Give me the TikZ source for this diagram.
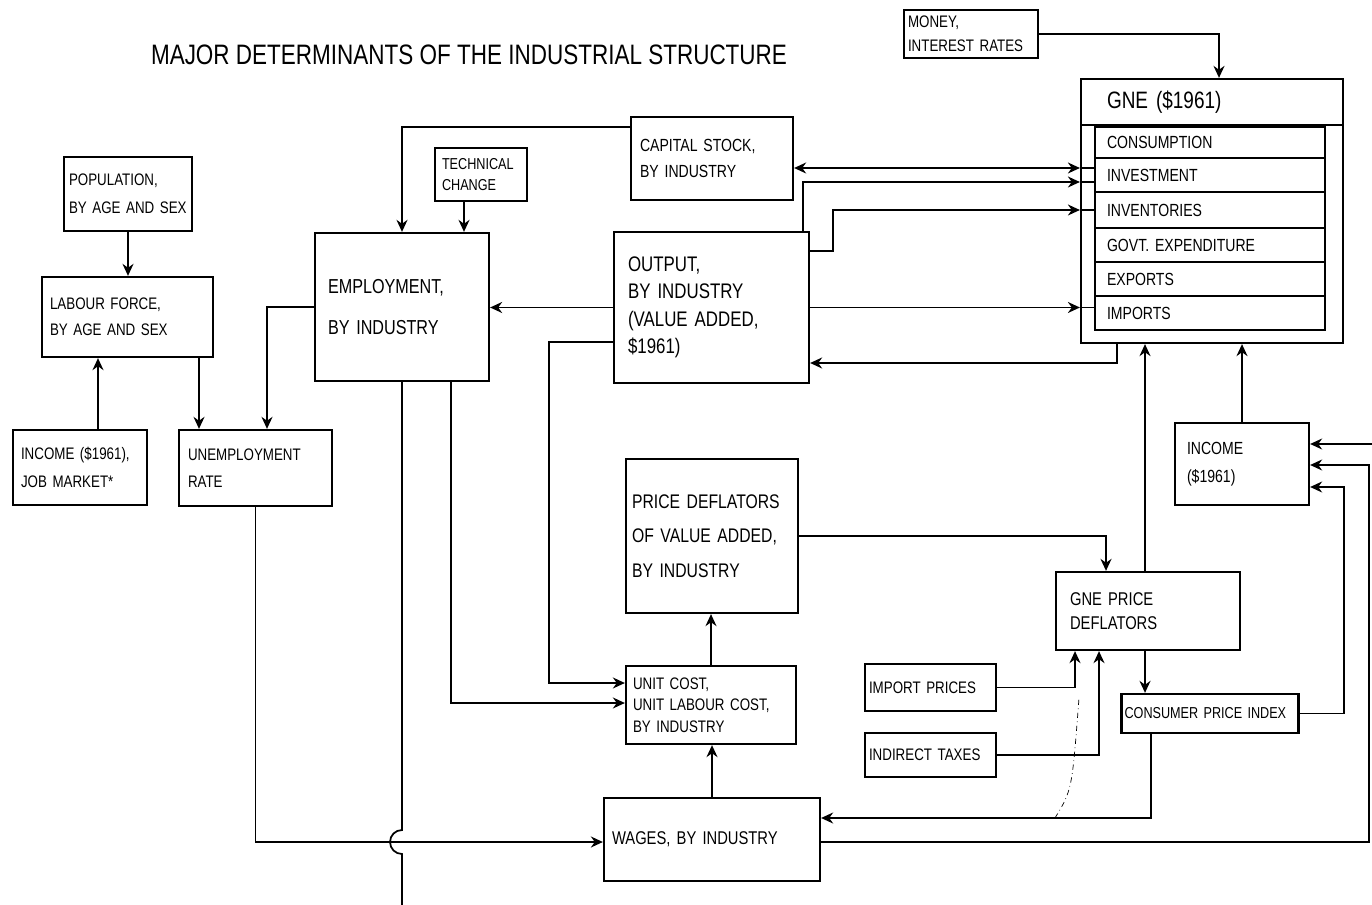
\documentclass[tikz,border=0pt]{standalone}
\usepackage{fontspec}
\setmainfont{Liberation Sans}[FakeStretch=0.8]
\usetikzlibrary{arrows.meta,positioning,calc}
\tikzset{>={Stealth[length=2.4mm,width=2.2mm]}}

\begin{document}
\begin{tikzpicture}[
    x=0.02cm, y=-0.02cm,
    box/.style={draw, line width=1.3pt, align=left, inner sep=0pt},
    link/.style={line width=1pt},
    row/.style={box, minimum width=4.6cm, text width=4.12cm, font=\fontsize{10}{12}\selectfont},
    >={Stealth[length=2.4mm,width=2.2mm]}
  ]
    \useasboundingbox (0,0) rectangle (1372,905);
    \node[font=\fontsize{16}{18}\selectfont] (title) at (469,55) {MAJOR DETERMINANTS OF THE INDUSTRIAL STRUCTURE};

    % left column
    \node[box, minimum width=2.56cm, minimum height=1.48cm, text width=2.36cm, font=\fontsize{9.5}{16}\selectfont] (pop) at (128,194) {POPULATION,\\BY AGE AND SEX};
    \node[box, minimum width=3.42cm, minimum height=1.6cm, text width=3.1cm, font=\fontsize{9.5}{15}\selectfont] (labour) at (127.5,317) {LABOUR FORCE,\\BY AGE AND SEX};
    \node[box, minimum width=2.68cm, minimum height=1.5cm, text width=2.36cm, font=\fontsize{9.5}{16}\selectfont] (incjob) at (80,467.5) {INCOME (\$1961),\\JOB MARKET*};
    \node[box, minimum width=3.06cm, minimum height=1.52cm, text width=2.7cm, font=\fontsize{9.5}{15}\selectfont] (unemp) at (255.5,468) {UNEMPLOYMENT\\RATE};

    % middle
    \node[box, minimum width=1.84cm, minimum height=1.06cm, text width=1.56cm, font=\fontsize{9}{12}\selectfont] (techch) at (481,174.5) {TECHNICAL\\CHANGE};
    \node[box, minimum width=3.48cm, minimum height=2.96cm, text width=2.96cm, font=\fontsize{11.5}{23}\selectfont] (emp) at (402,307) {EMPLOYMENT,\\BY INDUSTRY};
    \node[box, minimum width=3.24cm, minimum height=1.66cm, text width=2.88cm, font=\fontsize{10}{14.5}\selectfont] (capst) at (712,158.5) {CAPITAL STOCK,\\BY INDUSTRY};
    \node[box, minimum width=3.9cm, minimum height=3.02cm, text width=3.34cm, font=\fontsize{12}{15.6}\selectfont] (output) at (711.5,307.5) {OUTPUT,\\BY INDUSTRY\\(VALUE ADDED,\\\$1961)};
    \node[box, minimum width=3.44cm, minimum height=3.08cm, text width=3.2cm, font=\fontsize{11.2}{19.6}\selectfont] (pdva) at (712,536) {PRICE DEFLATORS\\OF VALUE ADDED,\\BY INDUSTRY};
    \node[box, minimum width=3.4cm, minimum height=1.56cm, text width=3.12cm, font=\fontsize{9.5}{12.2}\selectfont] (ucost) at (711,705) {UNIT COST,\\UNIT LABOUR COST,\\BY INDUSTRY};
    \node[box, minimum width=4.32cm, minimum height=1.66cm, text width=4.0cm, font=\fontsize{10.5}{13}\selectfont] (wages) at (712,839.5) {WAGES, BY INDUSTRY};

    % right side
    \node[box, minimum width=2.68cm, minimum height=0.96cm, text width=2.52cm, font=\fontsize{9.5}{13.6}\selectfont] (money) at (971,34) {MONEY,\\INTEREST RATES};
    \node[box, minimum width=5.24cm, minimum height=5.28cm] (gne) at (1212,211) {};
    \node[box, minimum width=5.24cm, minimum height=0.92cm, text width=4.2cm, font=\fontsize{13.5}{15}\selectfont] (gnehd) at (1212,102) {GNE (\$1961)};
    \node[row, minimum height=0.62cm] (cons) at (1210,142.5) {CONSUMPTION};
    \node[row, minimum height=0.68cm] (inv) at (1210,175) {INVESTMENT};
    \node[row, minimum height=0.72cm] (invt) at (1210,210) {INVENTORIES};
    \node[row, minimum height=0.68cm] (govt) at (1210,245) {GOVT. EXPENDITURE};
    \node[row, minimum height=0.68cm] (expo) at (1210,279) {EXPORTS};
    \node[row, minimum height=0.68cm] (impo) at (1210,313) {IMPORTS};
    \node[box, minimum width=2.68cm, minimum height=1.64cm, text width=2.2cm, font=\fontsize{10}{16}\selectfont] (inc) at (1242,464) {INCOME\\(\$1961)};
    \node[box, minimum width=3.68cm, minimum height=1.56cm, text width=3.12cm, font=\fontsize{10.5}{13.6}\selectfont] (gnepd) at (1148,611) {GNE PRICE\\DEFLATORS};
    \node[box, minimum width=2.62cm, minimum height=0.94cm, text width=2.46cm, font=\fontsize{9.5}{12}\selectfont] (impp) at (930.5,687.5) {IMPORT PRICES};
    \node[box, minimum width=2.62cm, minimum height=0.88cm, text width=2.46cm, font=\fontsize{9.5}{12}\selectfont] (indt) at (930.5,755) {INDIRECT TAXES};
    \node[box, minimum width=3.54cm, minimum height=0.78cm, text width=3.42cm, font=\fontsize{9}{11}\selectfont] (cpi) at (1210,713.5) {CONSUMER PRICE INDEX};

    \coordinate (empend) at (402,905);
    \coordinate (incfar) at (1372,444);
    \coordinate (ddlo) at (1055,818);
    \coordinate (ddhi) at (1079,698);

    % left links
    \draw[link,->] (pop.south) -- (pop.south |- labour.north);
    \draw[link,->] ($(incjob.north)+(18,0)$) -- ($(labour.south)+(-29.5,0)$);
    \draw[link,->] ($(labour.south)+(71.5,0)$) -- ($(unemp.north)+(-56.5,0)$);
    \draw[link,->] (emp.west) -| ($(unemp.north)+(11.5,0)$);
    \draw[link,->] (unemp.south) |- ($(wages.west)+(0,2.5)$);
    \draw[link] (emp.south) -- ($(emp.south |- wages.west)+(0,-9.5)$)
        arc[start angle=270, end angle=90, radius=12] -- (empend);

    % employment, output, costs
    \draw[link,->] ($(capst.west)+(0,-31.5)$) -| (emp.north);
    \draw[link,->] ($(techch.south)+(-17,0)$) -- ($(emp.north)+(62,0)$);
    \draw[link,->] (output.west) -- (emp.east |- output.west);
    \draw[link,->] ($(output.west)+(0,34.5)$) -- ++(-64,0) |- ($(ucost.west)+(0,-22)$);
    \draw[link,->] ($(emp.south)+(49,0)$) |- ($(ucost.west)+(0,-2)$);
    \draw[link,->] (ucost.north) -- (ucost.north |- pdva.south);
    \draw[link,->] (wages.north) -- (wages.north |- ucost.south);

    % into and out of GNE
    \draw[link,->] (money.east) -| ($(gne.north)+(7,0)$);
    \draw[link,<->] ($(capst.east)+(0,9.5)$) -- ($(gne.west)+(0,-43)$);
    \draw[link,->] ($(output.north east)+(-7,0)$) |- ($(gne.west)+(0,-29)$);
    \draw[link,->] ($(output.east)+(0,-56.5)$) -- ++(23,0) |- ($(gne.west)+(0,-1)$);
    \draw[link,->] (output.east) -- ($(gne.west)+(0,96.5)$);
    \foreach \dy in {-43,-29,-1,96.5}
      \draw[link] ($(gne.west)+(0,\dy)$) -- ++(14,0);
    \draw[link,->] ($(gne.south west)+(37,0)$) |- ($(output.east)+(0,55.5)$);
    \draw[link,->] ($(gnepd.north)+(-3,0)$) -- ($(gne.south)+(-67,0)$);
    \draw[link,->] (inc.north) -- ($(gne.south)+(30,0)$);

    % prices
    \draw[link,->] (pdva.east) -| ($(gnepd.north)+(-42,0)$);
    \draw[link,->] (impp.east) -| ($(gnepd.south)+(-73,0)$);
    \draw[link,->] (indt.east) -| ($(gnepd.south)+(-49,0)$);
    \draw[link,->] ($(gnepd.south)+(-3,0)$) -- ($(cpi.north)+(-65,0)$);
    \draw[link,->] ($(cpi.south)+(-59,0)$) |- ($(wages.east)+(0,-21.5)$);
    \draw[link,->] (cpi.east) -- ++(44,0) |- ($(inc.east)+(0,23)$);
    \draw[link,->] ($(wages.east)+(0,2.5)$) -- ++(548,0) |- ($(inc.east)+(0,1)$);
    \draw[link,->] (incfar) -- (incfar -| inc.east);
    \draw[thin, dash dot] (ddlo) .. controls (1072,790) .. (ddhi);
\end{tikzpicture}
\end{document}
